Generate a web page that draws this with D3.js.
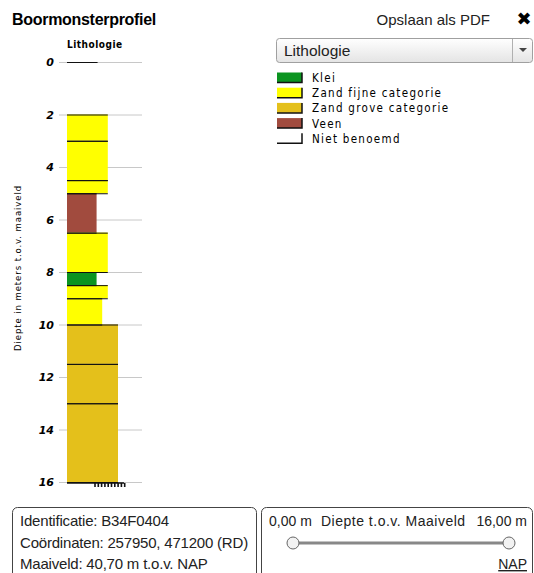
<!DOCTYPE html>
<html>
<head>
<meta charset="utf-8">
<script src="https://cdn.jsdelivr.net/npm/d3@7"></script>
<style>
  body { margin: 0; background: #fff; }
  svg { display: block; }
</style>
</head>
<body>
<svg id="chart" width="534" height="573"></svg>
<script>
// layer data: top/bottom depth (m), lithology class, grain class (column width)
var layerTops    = [0, 2, 3, 4.5, 5, 6.5, 8, 8.5, 9, 10, 11.5, 13];
var layerBottoms = [2, 3, 4.5, 5, 6.5, 8, 8.5, 9, 10, 11.5, 13, 16];
var layerTypes   = ["Niet benoemd", "Zand fijne categorie", "Zand fijne categorie",
                    "Zand fijne categorie", "Veen", "Zand fijne categorie", "Klei",
                    "Zand fijne categorie", "Zand fijne categorie",
                    "Zand grove categorie", "Zand grove categorie", "Zand grove categorie"];
var layerGrain   = [3, 4, 4, 4, 2.9, 4, 2.9, 4, 3.45, 5, 5, 5];

var legendNames  = ["Klei", "Zand fijne categorie", "Zand grove categorie", "Veen", "Niet benoemd"];
var legendColors = ["#0b9420", "#ffff00", "#e4c01b", "#a14b3e", "none"];

var depthTicks = [0, 2, 4, 6, 8, 10, 12, 14, 16];
var sliderRange = [0, 16];

var infoLines = ["Identificatie: B34F0404",
                 "Coördinaten: 257950, 471200 (RD)",
                 "Maaiveld: 40,70 m t.o.v. NAP"];

var svg = d3.select("#chart");
var sans = "'Liberation Sans', Arial, sans-serif";
var small = "'DejaVu Sans Condensed', 'DejaVu Sans', sans-serif";

var color = d3.scaleOrdinal().domain(legendNames).range(legendColors);
var y = d3.scaleLinear().domain([0, 16]).range([62, 482]);
var w = d3.scaleLinear().domain([0, 5]).range([0, 51]);
var colX = 67;

// header
svg.append("text").attr("x", 12).attr("y", 25)
  .style("font", "bold 16px " + sans).style("letter-spacing", "-0.3px")
  .text("Boormonsterprofiel");
svg.append("text").attr("x", 490).attr("y", 25).attr("text-anchor", "end")
  .style("font", "15px " + sans).attr("fill", "#222")
  .text("Opslaan als PDF");
svg.append("text").attr("x", 524).attr("y", 25).attr("text-anchor", "middle")
  .style("font", "bold 18px 'DejaVu Sans', sans-serif")
  .text("✖");

svg.append("text").attr("x", 67).attr("y", 48)
  .style("font", "bold 10px " + small).style("letter-spacing", "0.5px")
  .text("Lithologie");

// grid + tick labels
var grid = svg.append("g");
grid.selectAll("line").data(depthTicks).enter().append("line")
  .attr("x1", 59).attr("x2", 142)
  .attr("y1", d => y(d) + 0.5).attr("y2", d => y(d) + 0.5)
  .attr("stroke", "#c8c8c8");
grid.selectAll("text").data(depthTicks).enter().append("text")
  .attr("x", 54).attr("y", d => y(d) + 4).attr("text-anchor", "end")
  .style("font", "italic bold 11px 'DejaVu Sans', sans-serif")
  .text(d => d);

svg.append("text")
  .attr("transform", "translate(21," + 268 + ") rotate(-90)")
  .attr("text-anchor", "middle")
  .style("font", "9.5px " + small).style("letter-spacing", "0.9px")
  .text("Diepte in meters t.o.v. maaiveld");

// layers
var layers = layerTops.map((t, i) => ({top: t, bottom: layerBottoms[i], type: layerTypes[i], grain: layerGrain[i]}));
var lg = svg.append("g");
lg.selectAll("rect").data(layers.filter(d => color(d.type) !== "none")).enter().append("rect")
  .attr("x", colX).attr("y", d => y(d.top))
  .attr("width", d => w(d.grain)).attr("height", d => y(d.bottom) - y(d.top))
  .attr("fill", d => color(d.type));
lg.selectAll("line.top").data(layers.filter(d => color(d.type) !== "none")).enter().append("line")
  .attr("x1", colX).attr("x2", d => colX + w(d.grain))
  .attr("y1", d => y(d.top) + 0.5).attr("y2", d => y(d.top) + 0.5)
  .attr("stroke", "#111");
lg.selectAll("line.bot").data(layers).enter().append("line")
  .attr("x1", colX).attr("x2", d => colX + w(d.grain))
  .attr("y1", d => (d.top === 0 ? y(d.top) : y(d.bottom)) + 0.5)
  .attr("y2", d => (d.top === 0 ? y(d.top) : y(d.bottom)) + 0.5)
  .attr("stroke", "#111");

// end-of-boring hatch
var endY = y(16);
svg.append("line").attr("x1", colX).attr("x2", 124)
  .attr("y1", endY + 1).attr("y2", endY + 1).attr("stroke", "#111").attr("stroke-width", 1.5);
svg.append("g").selectAll("line").data(d3.range(95, 125, 3.3)).enter().append("line")
  .attr("x1", d => d).attr("x2", d => d)
  .attr("y1", endY + 1).attr("y2", endY + 5)
  .attr("stroke", "#111").attr("stroke-width", 1.6);

// dropdown
var defs = svg.append("defs");
var grad = defs.append("linearGradient").attr("id", "dd").attr("x1", 0).attr("x2", 0).attr("y1", 0).attr("y2", 1);
grad.append("stop").attr("offset", "0%").attr("stop-color", "#ffffff");
grad.append("stop").attr("offset", "100%").attr("stop-color", "#e4e4e4");
svg.append("rect").attr("x", 276.5).attr("y", 38.5).attr("width", 256).attr("height", 24).attr("rx", 3)
  .attr("fill", "url(#dd)").attr("stroke", "#a0a0a0");
svg.append("line").attr("x1", 512.5).attr("x2", 512.5).attr("y1", 39).attr("y2", 62).attr("stroke", "#b0b0b0");
svg.append("path").attr("d", "M519,48 L527,48 L523,52 Z").attr("fill", "#444");
svg.append("text").attr("x", 284).attr("y", 56)
  .style("font", "15.5px " + sans).attr("fill", "#222").text("Lithologie");

// legend
var leg = svg.append("g").selectAll("g").data(legendNames).enter().append("g")
  .attr("transform", (d, i) => "translate(277," + (72.5 + i * 15.2) + ")");
leg.append("rect").attr("width", 25).attr("height", 10)
  .attr("fill", d => color(d));
leg.append("path").attr("d", "M0,10 L25,10 L25,0").attr("fill", "none")
  .attr("stroke", "#111").attr("stroke-width", 1.5);
leg.append("text").attr("x", 35).attr("y", 9.5)
  .style("font", "11.5px " + small).style("letter-spacing", "1.3px")
  .text(d => d);

// info boxes
svg.append("rect").attr("x", 12.5).attr("y", 507.5).attr("width", 244).attr("height", 90).attr("rx", 5)
  .attr("fill", "none").attr("stroke", "#444");
svg.append("rect").attr("x", 261.5).attr("y", 507.5).attr("width", 271).attr("height", 90).attr("rx", 5)
  .attr("fill", "none").attr("stroke", "#444");
svg.append("g").selectAll("text").data(infoLines).enter().append("text")
  .attr("x", 20).attr("y", (d, i) => 526 + i * 21.5)
  .style("font", "15px " + sans).attr("fill", "#222").style("letter-spacing", "-0.2px")
  .text(d => d);

var sx = d3.scaleLinear().domain(sliderRange).range([293, 509]);
var fmt = v => d3.format(".2f")(v).replace(".", ",") + " m";
svg.append("text").attr("x", 269).attr("y", 526)
  .style("font", "14px " + sans).attr("fill", "#222").text(fmt(sliderRange[0]));
svg.append("text").attr("x", 321).attr("y", 526)
  .style("font", "14px " + sans).attr("fill", "#222").style("letter-spacing", "0.5px")
  .text("Diepte t.o.v. Maaiveld");
svg.append("text").attr("x", 527).attr("y", 526).attr("text-anchor", "end")
  .style("font", "14px " + sans).attr("fill", "#222").text(fmt(sliderRange[1]));
svg.append("line").attr("x1", sx(sliderRange[0])).attr("x2", sx(sliderRange[1]))
  .attr("y1", 543).attr("y2", 543).attr("stroke", "#888").attr("stroke-width", 3);
svg.append("g").selectAll("circle").data(sliderRange).enter().append("circle")
  .attr("cx", d => sx(d)).attr("cy", 543).attr("r", 6)
  .attr("fill", "#f2f2f2").attr("stroke", "#666");
svg.append("text").attr("x", 527).attr("y", 569).attr("text-anchor", "end")
  .style("font", "14px " + sans).attr("fill", "#222").attr("text-decoration", "underline")
  .text("NAP");
</script>
</body>
</html>
